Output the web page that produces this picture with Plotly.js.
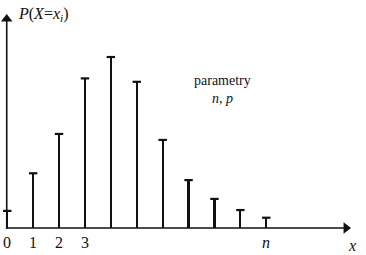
<!DOCTYPE html>
<html>
<head>
<meta charset="utf-8">
<script src="https://cdn.plot.ly/plotly-3.0.1.min.js"></script>
<style>html,body{margin:0;padding:0;background:#fff;}#chart{width:366px;height:255px;}</style>
</head>
<body>
<div id="chart"></div>
<script>
// data
const xValues = [0, 1, 2, 3, 4, 5, 6, 7, 8, 9, 10];
const probabilities = [0.020, 0.064, 0.110, 0.175, 0.200, 0.171, 0.103, 0.056, 0.034, 0.021, 0.012];
const tickValues = [0, 1, 2, 3, 10];
const tickLabels = ['0', '1', '2', '3', '<i>n</i>'];

const serif = 'Liberation Serif';
const ink = '#111';

const stems = {
  type: 'bar', x: xValues, y: probabilities, width: 0.085,
  marker: {color: ink, line: {width: 0}}, hoverinfo: 'skip'
};
const caps = {
  type: 'scatter', mode: 'markers', x: xValues, y: probabilities,
  marker: {symbol: 'line-ew', size: 6, line: {width: 2.2, color: ink}},
  hoverinfo: 'skip'
};
const heads = {
  type: 'scatter', mode: 'markers', x: [13.08, -0.02], y: [0, 0.2445],
  marker: {symbol: ['triangle-right', 'triangle-up'], size: 10, color: ink, line: {width: 0}},
  cliponaxis: false, hoverinfo: 'skip'
};

const layout = {
  width: 366, height: 255,
  margin: {l: 0, r: 0, t: 0, b: 0},
  paper_bgcolor: '#fff', plot_bgcolor: '#fff',
  showlegend: false,
  bargap: 0,
  font: {family: serif},
  xaxis: {range: [-0.28, 13.85], showgrid: false, zeroline: false, showline: false,
          showticklabels: false, ticks: ''},
  yaxis: {range: [-0.0316, 0.2667], showgrid: false, zeroline: false, showline: false,
          showticklabels: false, ticks: ''},
  shapes: [
    {type: 'line', xref: 'x', yref: 'y', x0: -0.02, y0: -0.001, x1: -0.02, y1: 0.243,
     line: {color: ink, width: 1.6}},
    {type: 'line', xref: 'x', yref: 'y', x0: -0.05, y0: 0, x1: 13.05, y1: 0,
     line: {color: ink, width: 1.6}}
  ],
  annotations: [
    {x: 0.35, y: 0.2495, xref: 'x', yref: 'y', xanchor: 'left', yanchor: 'middle', showarrow: false,
     text: '<i>P</i>(<i>X</i>=<i>x<sub>i</sub></i>)', font: {family: serif, size: 16, color: ink}},
    {x: 13.3, y: -0.0205, xref: 'x', yref: 'y', xanchor: 'center', yanchor: 'middle', showarrow: false,
     text: '<i>x</i>', font: {family: serif, size: 16, color: ink}},
    {x: 8.3, y: 0.172, xref: 'x', yref: 'y', xanchor: 'center', yanchor: 'middle', showarrow: false,
     text: 'parametry', font: {family: serif, size: 14, color: ink}},
    {x: 8.3, y: 0.152, xref: 'x', yref: 'y', xanchor: 'center', yanchor: 'middle', showarrow: false,
     text: '<i>n</i>, <i>p</i>', font: {family: serif, size: 14, color: ink}}
  ].concat(tickValues.map((v, i) => ({
    x: v, y: -0.0165, xref: 'x', yref: 'y', xanchor: 'center', yanchor: 'middle', showarrow: false,
    text: tickLabels[i], font: {family: serif, size: 16, color: ink}
  })))
};

Plotly.newPlot('chart', [stems, caps, heads], layout, {displayModeBar: false, staticPlot: true});
</script>
</body>
</html>
